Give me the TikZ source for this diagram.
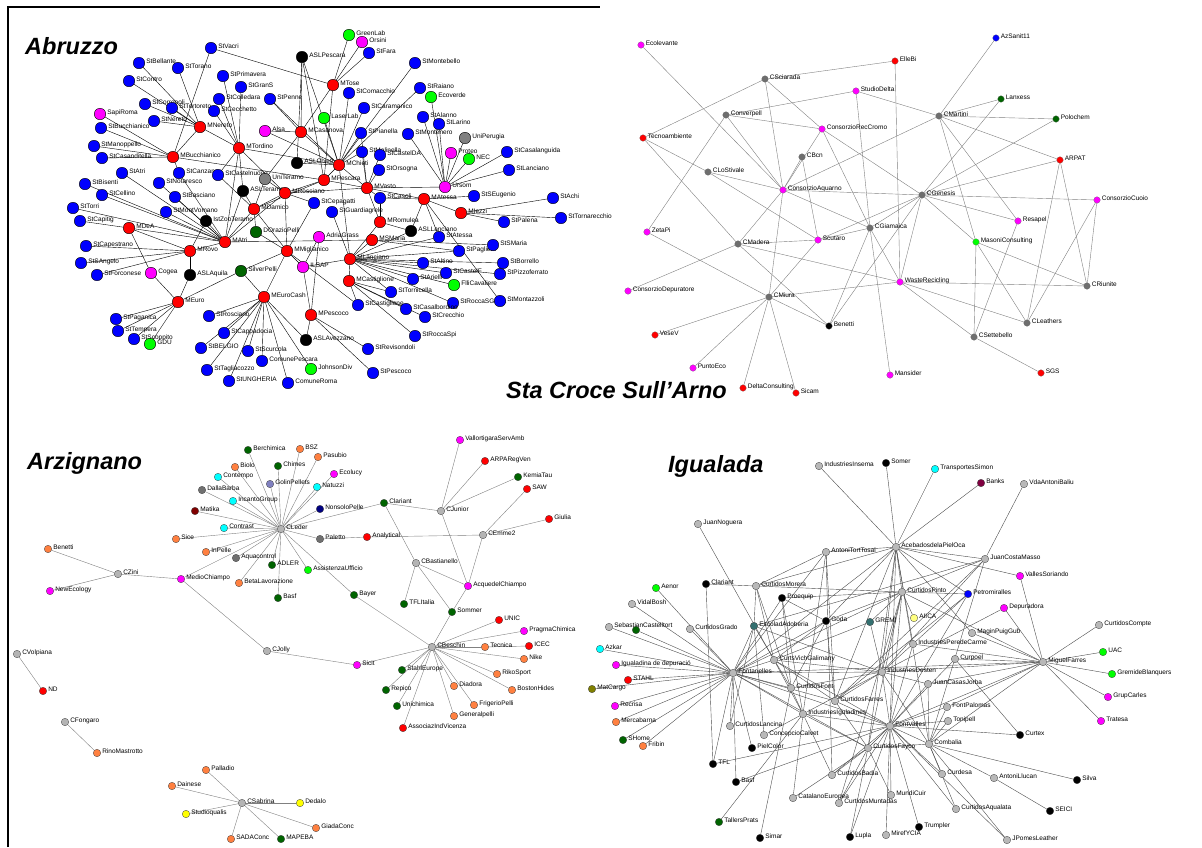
\documentclass[tikz,border=0pt]{standalone}
\usepackage{fontspec}
\setmainfont{Liberation Sans}
\pgfdeclarelayer{bg}
\pgfsetlayers{bg,main}
\definecolor{cb}{HTML}{0000FF}
\definecolor{cr}{HTML}{FF0000}
\definecolor{ck}{HTML}{000000}
\definecolor{cm}{HTML}{FF00FF}
\definecolor{cg}{HTML}{00FF00}
\definecolor{cd}{HTML}{006400}
\definecolor{cy}{HTML}{808080}
\definecolor{sy}{HTML}{6E6E6E}
\definecolor{zy}{HTML}{B4B4B4}
\definecolor{zz}{HTML}{707070}
\definecolor{co}{HTML}{FF8040}
\definecolor{cc}{HTML}{00FFFF}
\definecolor{cw}{HTML}{FFFF00}
\definecolor{cn}{HTML}{000080}
\definecolor{cmr}{HTML}{800000}
\definecolor{cbk}{HTML}{800040}
\definecolor{cl}{HTML}{8080C0}
\definecolor{col}{HTML}{808000}
\definecolor{ct}{HTML}{337070}
\definecolor{clw}{HTML}{FFFF80}
\definecolor{iy}{HTML}{B8B8B8}
\tikzset{
  an/.style={circle,draw=black,line width=0.4pt,minimum size=11.5pt,inner sep=0pt},
  sn/.style={circle,draw=black!60,line width=0.2pt,minimum size=6.6pt,inner sep=0pt},
  zn/.style={circle,draw=black!75,line width=0.3pt,minimum size=7.5pt,inner sep=0pt},
  gn/.style={circle,draw=black!75,line width=0.3pt,minimum size=7.5pt,inner sep=0pt},
  lb/.style={font=\fontsize{6.5}{7}\selectfont,inner sep=0.6pt,yshift=1.5pt,label distance=0.6pt},
  ae/.style={black,line width=0.4pt},
  se/.style={black!50,line width=0.4pt},
  ze/.style={black!50,line width=0.4pt},
  ie/.style={black!70,line width=0.4pt},
  ttl/.style={font=\fontsize{23.5}{26}\selectfont\bfseries\itshape,inner sep=0pt},
}
\begin{document}
\begin{tikzpicture}[x=1pt,y=-1pt]
\path[use as bounding box] (0,0) rectangle (1202,847);
\draw[line width=1.8pt] (8,847)--(8,7)--(600,7);
% ---------------- titles
\node[ttl,anchor=base west] (tAbr) at (25,54) {Abruzzo};
\node[ttl,anchor=base east] (tSta) at (727,398) {Sta Croce Sull’Arno};
\node[ttl,anchor=base west] (tArz) at (27,469) {Arzignano};
\node[ttl,anchor=base west] (tIgu) at (668,472) {Igualada};
% ---------------- Abruzzo nodes
\foreach \n/\c/\x/\y in {
StVacri/cb/211/48, StBellante/cb/139/63, StTorano/cb/178/68, StPrimavera/cb/223/76,
StGranS/cb/241/87, StContro/cb/129/81, StCorropoli/cb/145/104, StTortoreto/cb/172/108,
StColledara/cb/219/99, StCecchetto/cb/214/111, SapiRoma/cm/100/114, StBucchianico/cb/101/128,
StNereto/cb/154/121, MNereto/cr/200/127, StManoppello/cb/94/146, StCasanditella/cb/102/158,
MBucchianico/cr/173/157, MTordino/cr/239/148, StAtri/cb/122/173, StCanzano/cb/179/173,
StCastelnuovo/cb/218/175, StBisenti/cb/85/184, StNotaresco/cb/159/183, StCellino/cb/102/195,
StBasciano/cb/175/197, ASLTeramo/ck/243/191, StTorri/cb/73/208, StMontVomano/cb/166/212,
IstZooTeramo/ck/206/221, StCapitig/cb/80/221, MDeA/cr/129/228, MAtri/cr/225/242,
StCapestrano/cb/86/246, MRovo/cr/190/251, StSAngelo/cb/81/263, StForconese/cb/97/275,
Cogea/cm/151/273, ASLAquila/ck/190/275, SilverPelli/cd/241/271, MEuro/cr/178/302,
StPaganica/cb/116/319, StTempera/cb/118/331, StScoppito/cb/134/339, GDU/cg/150/344,
StRosciano/cb/209/316, StCappadocia/cb/224/333, StBELGIO/cb/201/348, StTagliacozzo/cb/207/370,
StUNGHERIA/cb/229/381, StScurcola/cb/248/351, MDamico/cr/254/209, DOrazioPelli/cd/256/232,
StCepagatti/cb/314/203, StGuardiagrele/cb/332/212, StCasoli/cb/380/198, MAtessa/cr/424/199,
StSEugenio/cb/474/196, MIezzi/cr/461/213, MRomulea/cr/380/222, ASLLanciano/ck/411/231,
StAtessa/cb/439/237, AdriaGrass/cm/319/237, MSMaria/cr/372/240, MMiglianico/cr/287/251,
StPaglieta/cb/459/251, ILSAP/cm/303/267, MLanciano/cr/350/259, StAltino/cb/423/263,
StCastelF/cb/446/273, StArielli/cb/413/279, FlliCavaliere/cg/454/285, MCastiglione/cr/349/281,
StTornicella/cb/391/292, StRoccaSGiova/cb/453/303, MEuroCash/cr/264/297, StCastiglione/cb/358/305,
StCasalbordino/cb/406/309, StCrecchio/cb/425/317, MPescoco/cr/311/315, StRoccaSpi/cb/415/336,
ASLAvezzano/ck/306/340, StRevisondoli/cb/368/349, ComunePescara/cb/262/361, JohnsonDiv/cg/311/369,
StPescoco/cb/373/373, ComuneRoma/cb/288/383, GreenLab/cg/349/35, Orsini/cm/362/42,
StFara/cb/369/53, ASLPescara/ck/302/57, StMontebello/cb/415/63, MTose/cr/333/85,
StComacchio/cb/349/93, StRaiano/cb/420/88, Ecoverde/cg/431/97, StPenne/cb/270/99,
StCaramanico/cb/364/108, LaserLab/cg/324/118, StAlanno/cb/423/117, StLarino/cb/439/124,
Alsa/cm/265/131, MCasanova/cr/301/132, StPianella/cb/361/133, StMontenero/cb/408/134,
UniPerugia/cy/465/138, StMolinella/cb/362/152, StCastelDA/cb/380/155, Proteo/cm/451/153,
NEC/cg/469/159, ASLChieti/ck/297/163, MChieti/cr/339/165, StOrsogna/cb/379/170,
UniTeramo/cy/265/179, MPescara/cr/324/180, Ursom/cm/445/187, MRosciano/cr/285/193,
MVasto/cr/367/188, StCasalanguida/cb/507/152, StLanciano/cb/509/170, StAchi/cb/553/198,
StTornarecchio/cb/561/218, StPalena/cb/504/222, StSMaria/cb/493/245, StBorrello/cb/503/263,
StPizzoferrato/cb/500/274, StMontazzoli/cb/500/301}
  {\node[an,fill=\c,label={[lb]right:\n}] (a\n) at (\x,\y) {};}
% ---------------- Sta Croce nodes
\foreach \n/\c/\x/\y in {
Ecolevante/cm/641/45, CSciarada/sy/765/79, ElleBi/cr/895/61, StudioDelta/cm/856/91,
Converpell/sy/726/115, Tecnoambiente/cr/643/138, ConsorzioRecCromo/cm/822/129, CBcn/sy/802/157,
CLoStivale/sy/708/172, ConsorzioAquarno/cm/783/190, CGiamaica/sy/870/228, ZetaPi/cm/647/232,
Scutaro/cm/818/240, CMadera/sy/738/244, WasteRecicling/cm/900/282, ConsorzioDepuratore/cm/628/291,
CMiura/sy/769/297, Benetti/ck/829/326, VeseV/cr/655/335, PuntoEco/cm/693/368,
DeltaConsulting/cr/743/388, Sicam/cr/796/393, Mansider/cm/890/375, AzSanit11/cb/996/38,
Lanxess/cd/1001/99, CMartini/sy/939/116, Polochem/cd/1056/119, ARPAT/cr/1060/160,
CGenesis/sy/922/195, ConsorzioCuoio/cm/1097/200, Resapel/cm/1018/221, MasoniConsulting/cg/976/242,
CRiunite/sy/1087/286, CLeathers/sy/1027/323, CSettebello/sy/974/337, SGS/cr/1041/373}
  {\node[sn,fill=\c,label={[lb]right:\n}] (s\n) at (\x,\y) {};}
% ---------------- Arzignano nodes
\foreach \n/\c/\x/\y in {
Berchimica/cd/248/450, BSZ/co/300/449, Biolo/co/235/467, Chimes/cd/278/466,
Contempo/cc/218/477, GolinPellets/cl/270/484, DallaBarba/zz/202/490, IncantoGroup/cc/233/501,
Matika/cmr/195/511, Contrast/cc/224/528, CLeder/zy/281/529, Sice/co/176/539,
Benetti/co/48/549, InPelle/co/206/552, Aquacontrol/zz/236/558, ADLER/cd/272/565,
CZini/zy/118/574, MedioChiampo/cm/181/579, BetaLavorazione/co/239/583, NewEcology/cm/50/591,
Basf/cd/278/598, CJolly/zy/267/651, CVolpiana/zy/17/654, ND/cr/43/691,
CFongaro/zy/65/722, RinoMastrotto/co/97/753, Palladio/co/206/770, Dainese/co/172/786,
CSabrina/zy/242/803, Dedalo/cw/300/803, Studioqualis/cw/186/814, SADAConc/co/231/839,
MAPEBA/cd/281/839, GiadaConc/co/316/828, VallortigaraServAmb/cm/460/440, ARPARegVen/cr/485/461,
KemiaTau/cd/518/477, Pasubio/co/318/457, Ecolucy/cm/334/474, Natuzzi/cc/317/487,
SAW/cr/527/489, Clariant/cd/384/503, NonsoloPelle/cn/320/509, CJunior/zy/441/511,
Giulia/cr/549/519, Paletto/zz/320/539, Analytical/cr/367/537, CEmme2/zy/483/535,
CBastianello/zy/416/563, AssistenzaUfficio/cg/308/570, AcquedelChiampo/cm/468/586, Bayer/cd/354/595,
TFLItalia/cd/404/604, Sommer/cd/452/612, UNIC/cr/499/620, PragmaChimica/cm/524/631,
CBeschin/zy/432/647, Tecnica/co/485/647, ICEC/cr/529/646, Nike/co/524/659,
Sicit/cm/357/665, StahlEurope/cd/402/670, RikoSport/co/497/674, Diadora/co/454/686,
Repico/cd/386/690, BostonHides/co/512/690, FrigerioPelli/co/474/705, Unichimica/cd/397/706,
Generalpelli/co/454/716, AssociazIndVicenza/cr/403/728}
  {\node[zn,fill=\c,label={[lb]right:\n}] (z\n) at (\x,\y) {};}
% ---------------- Igualada nodes
\foreach \n/\c/\x/\y in {
IndustriesInsema/iy/819/466, Somer/ck/886/463, TransportesSimon/cc/935/469, Banks/cbk/981/483,
VdaAntoniBaliu/iy/1024/484, JuanNoguera/iy/698/524, AcebadosdelaPielOca/iy/896/547, AntoniTortTosal/iy/826/552,
JuanCostaMasso/iy/985/559, VallesSoriando/cm/1020/576, Aenor/cg/656/588, Clariant/ck/706/584,
CurtidosMorera/iy/756/586, CurtidosPinto/iy/902/592, Petromiralles/cb/968/594, Proequip/ck/782/598,
VidalBosh/iy/632/604, Depuradora/cm/1004/608, AIICA/clw/914/618, Goda/ck/826/621,
GREMI/ct/870/622, EscoladAdoberia/ct/754/626, SebastianCastelltort/iy/609/627, CurtidosGrado/iy/690/629,
CurtidosCompte/iy/1099/625, MaginPuigGub/iy/972/633, IndustriesPeredeCarme/iy/913/644, Azkar/cc/600/649,
UAC/cg/1103/652, CurtsVichGalimany/iy/774/660, Curpoel/iy/955/659, MiguelFarres/iy/1043/662,
IndustriesDesten/iy/882/672, Fontanelles/iy/733/673, GremideBlanquers/cg/1112/674, STAHL/cr/628/680,
JuanCasasJorba/iy/928/684, CurtidosFont/iy/791/688, MatCargo/col/592/689, GrupCarles/cm/1108/697,
CurtidosFarres/iy/835/701, Recrisa/cm/615/706, FontPalomas/iy/947/707, IndustriesIguladines/iy/803/714,
Tratesa/cm/1101/721, Tonipell/iy/948/721, Mercabarna/co/616/722, FontValles/iy/890/726,
CurtidosLancina/iy/730/726, ConcepcioCalvet/iy/764/735, Curtex/ck/1020/735, SHome/cd/623/740,
Combalia/iy/929/744, Fribin/co/643/746, PielColor/ck/752/748, CurtidosFayco/iy/868/748,
TFL/ck/713/764, Curdesa/iy/942/774, CurtidosBadia/iy/832/775, AntoniLlucan/iy/994/778,
Silva/ck/1077/780, Basf/ck/736/782, MundiCuir/iy/891/795, CatalanoEuropea/iy/793/798,
CurtidosMuntadas/iy/839/803, CurtidosAqualata/iy/956/809, SEICI/ck/1050/811, TallersPrats/cd/719/822,
Trumpler/ck/919/827, MirefYCIA/iy/886/835, Lupla/ck/850/837, Simar/ck/760/838, JPomesLeather/iy/1007/840}
  {\node[gn,fill=\c,label={[lb]right:\n}] (i\n) at (\x,\y) {};}
\node[gn,fill=cm,label={[lb]right:Igualadina de depuració}] (iIgualadina) at (616,665) {};
\node[gn,fill=cd] (iUnk) at (636,630) {};
% ---------------- edges
\begin{pgfonlayer}{bg}
\foreach \h/\l in {
MNereto/{StBellante,StTorano,StContro,StCorropoli,StTortoreto,StNereto,MBucchianico,MTordino},
MBucchianico/{SapiRoma,StBucchianico,StManoppello,StCasanditella,StVacri,MPescara,StCanzano},
MTordino/{StPrimavera,StGranS,StColledara,StCecchetto,StCastelnuovo,MRosciano,ASLTeramo,MAtri,MChieti},
MAtri/{StAtri,StBisenti,StCellino,StNotaresco,StBasciano,StMontVomano,StTorri,MDeA,MRovo,IstZooTeramo,ASLTeramo,MDamico,MRosciano,StCanzano,MSMaria},
MDeA/{StCapitig,Cogea,MRovo},
MRovo/{StCapestrano,StSAngelo,StForconese,ASLAquila,IstZooTeramo},
MEuro/{ASLAquila,Cogea,SilverPelli,StPaganica,StTempera,StScoppito,GDU},
MEuroCash/{SilverPelli,StRosciano,StCappadocia,StBELGIO,StTagliacozzo,StUNGHERIA,StScurcola,ComunePescara,ComuneRoma,JohnsonDiv,MMiglianico,ASLAvezzano},
MMiglianico/{MDamico,DOrazioPelli,StCepagatti,SilverPelli,ILSAP,MRosciano,StCastiglione},
MDamico/{ASLTeramo,UniTeramo,MRosciano,DOrazioPelli,StCastelnuovo,MPescara},
MRosciano/{MPescara,StCepagatti,UniTeramo,MVasto},
ILSAP/{MLanciano,MPescoco,AdriaGrass},
MPescoco/{ASLAvezzano,StRevisondoli,StPescoco,AdriaGrass},
MLanciano/{StGuardiagrele,MRomulea,MSMaria,StAltino,StCastelF,StArielli,StTornicella,StRoccaSGiova,StPaglieta,StAtessa,MCastiglione,ASLLanciano,MChieti,StBorrello,StPizzoferrato,FlliCavaliere},
MCastiglione/{StCastiglione,StTornicella,StCasalbordino,StCrecchio,StRoccaSpi},
MVasto/{MPescara,MChieti,StCasoli,MAtessa,Ursom,StMolinella,StCastelDA,StOrsogna,MRomulea,StPianella},
MChieti/{ASLChieti,MCasanova,MPescara,StPianella,StCaramanico,StMontebello,StRaiano,StComacchio,LaserLab,StPenne,StMolinella,Alsa,ASLPescara},
MTose/{StVacri,GreenLab,Orsini,StFara,MCasanova,MPescara},
MCasanova/{StPenne,ASLPescara,Alsa,UniTeramo},
ASLPescara/{MPescara,ASLChieti},
Ursom/{UniPerugia,Proteo,NEC,StAlanno,StMontenero,StLarino,Ecoverde,StCasalanguida,StLanciano},
MAtessa/{StSEugenio,MIezzi,ASLLanciano,StCasoli,StAtessa,StMontazzoli},
MIezzi/{StAchi,StTornarecchio,StPalena},
MSMaria/{StPaglieta,StSMaria},
MRomulea/{ASLLanciano,StCasoli}}
  {\foreach \t in \l {\draw[ae] (a\h)--(a\t);}}
\foreach \h/\l in {
ConsorzioAquarno/{Ecolevante,CSciarada,CMiura,Converpell,CLoStivale,CBcn,ConsorzioRecCromo,CGiamaica,CGenesis,CMartini,CMadera},
CSciarada/{Tecnoambiente,ElleBi,ConsorzioRecCromo},
Converpell/{ZetaPi,ConsorzioRecCromo,StudioDelta},
Tecnoambiente/{CLoStivale,CMadera},
CLoStivale/{Scutaro},
CBcn/{Scutaro},
ConsorzioRecCromo/{CGiamaica,CGenesis},
CMadera/{ConsorzioDepuratore,Scutaro,WasteRecicling,Benetti},
CMiura/{ZetaPi,VeseV,PuntoEco,DeltaConsulting,Sicam,Benetti,Scutaro,WasteRecicling},
CGiamaica/{StudioDelta,Mansider,Benetti,WasteRecicling,Scutaro,CGenesis},
StudioDelta/{CMartini},
CGenesis/{Scutaro,Benetti,Lanxess,Polochem,ARPAT,ConsorzioCuoio,Resapel,MasoniConsulting,WasteRecicling},
CMartini/{AzSanit11,Lanxess,Polochem,ARPAT,MasoniConsulting,Resapel},
ElleBi/{WasteRecicling},
ARPAT/{CLeathers,CRiunite},
ConsorzioCuoio/{CRiunite,CLeathers},
MasoniConsulting/{CRiunite,CLeathers,CSettebello},
Resapel/{CSettebello},
WasteRecicling/{CRiunite,CLeathers,CSettebello},
CSettebello/{SGS}}
  {\foreach \t in \l {\draw[se] (s\h)--(s\t);}}
\foreach \h/\l in {
CLeder/{Berchimica,BSZ,Biolo,Chimes,Contempo,GolinPellets,DallaBarba,IncantoGroup,Matika,Contrast,Sice,InPelle,Aquacontrol,ADLER,BetaLavorazione,Basf,MedioChiampo,Pasubio,Ecolucy,Natuzzi,NonsoloPelle,Clariant,Paletto,AssistenzaUfficio,Bayer},
Paletto/{Analytical},
Analytical/{CEmme2},
Clariant/{CJunior,CBastianello},
CJunior/{VallortigaraServAmb,ARPARegVen,KemiaTau,AcquedelChiampo},
CEmme2/{SAW,Giulia,AcquedelChiampo},
CBastianello/{AcquedelChiampo,TFLItalia,Sommer},
AcquedelChiampo/{Sommer},
CBeschin/{Sommer,UNIC,PragmaChimica,Tecnica,Nike,RikoSport,BostonHides,Diadora,FrigerioPelli,Generalpelli,AssociazIndVicenza,Unichimica,Repico,StahlEurope,Sicit,Bayer},
Tecnica/{ICEC},
CJolly/{Sicit,MedioChiampo},
CZini/{MedioChiampo,Benetti,NewEcology},
CVolpiana/{ND},
CFongaro/{RinoMastrotto},
CSabrina/{Palladio,Dainese,Studioqualis,SADAConc,MAPEBA,Dedalo,GiadaConc}}
  {\foreach \t in \l {\draw[ze] (z\h)--(z\t);}}
\foreach \h/\l in {
Fontanelles/{Azkar,Igualadina,STAHL,MatCargo,Recrisa,Mercabarna,SHome,Fribin,VidalBosh,SebastianCastelltort,Aenor,Unk,CurtidosGrado,CurtsVichGalimany,CurtidosFont,IndustriesIguladines,CurtidosFarres,IndustriesDesten,FontValles,CurtidosLancina,PielColor,TFL,Basf,CurtidosFayco,CurtidosPinto,AcebadosdelaPielOca,AntoniTortTosal,MiguelFarres,EscoladAdoberia,Proequip,Goda},
AcebadosdelaPielOca/{IndustriesInsema,Somer,TransportesSimon,Banks,AntoniTortTosal,JuanCostaMasso,VallesSoriando,Petromiralles,CurtidosPinto,MaginPuigGub,CurtidosFarres,IndustriesDesten,FontValles,Goda,CurtidosMorera,Combalia,IndustriesPeredeCarme,CurtidosFayco},
JuanCostaMasso/{VdaAntoniBaliu,CurtidosPinto,IndustriesDesten,Combalia,EscoladAdoberia,CurtidosFarres},
CurtsVichGalimany/{JuanNoguera,CurtidosMorera,CurtidosFarres,GREMI,Goda},
Clariant/{CurtidosMorera,TFL},
AntoniTortTosal/{CurtidosBadia,CurtidosFarres,IndustriesIguladines,CurtidosMorera},
MiguelFarres/{VallesSoriando,Depuradora,CurtidosCompte,UAC,GremideBlanquers,GrupCarles,Tratesa,IndustriesPeredeCarme,Curpoel,IndustriesDesten,JuanCasasJorba,FontPalomas,FontValles,Combalia,MaginPuigGub,CurtidosPinto},
Depuradora/{IndustriesDesten},
Petromiralles/{CurtidosPinto,IndustriesDesten,FontValles,CurtidosFarres},
CurtidosPinto/{GREMI,IndustriesDesten,FontValles,CurtidosFayco,Goda,Proequip,CurtidosMorera,CurtidosMuntadas,AIICA},
IndustriesDesten/{CurtsVichGalimany,IndustriesIguladines,CurtidosFarres,FontValles,JuanCasasJorba,EscoladAdoberia,GREMI,CurtidosFont,Combalia},
FontValles/{Curtex,Tonipell,FontPalomas,JuanCasasJorba,CurtidosFayco,MundiCuir,Trumpler,CurtidosMuntadas,Lupla,MirefYCIA,CurtidosBadia,Curdesa,CurtidosAqualata,Combalia,IndustriesIguladines,CurtidosFarres,CurtsVichGalimany,IndustriesPeredeCarme,JPomesLeather,Curpoel,TFL,Basf},
Combalia/{Curdesa,AntoniLlucan,Silva,CurtidosAqualata,JuanCasasJorba,Tonipell,CurtidosFayco,FontPalomas,JPomesLeather},
AntoniLlucan/{SEICI},
Curpoel/{Curtex},
CurtidosFayco/{CurtidosBadia,CatalanoEuropea,CurtidosMuntadas,MundiCuir,IndustriesIguladines,CurtidosFarres,Lupla},
IndustriesIguladines/{CurtidosBadia,CatalanoEuropea,ConcepcioCalvet,CurtidosFont,CurtsVichGalimany,TallersPrats},
CurtidosMorera/{EscoladAdoberia,CurtidosFont},
Proequip/{CurtidosFont,IndustriesIguladines,Goda},
EscoladAdoberia/{CurtidosLancina,CurtidosFont,ConcepcioCalvet},
Goda/{CurtidosFarres,CurtidosFont},
CurtidosFont/{Simar}}
  {\foreach \t in \l {\draw[ie] (i\h)--(i\t);}}
\end{pgfonlayer}
\end{tikzpicture}
\end{document}
